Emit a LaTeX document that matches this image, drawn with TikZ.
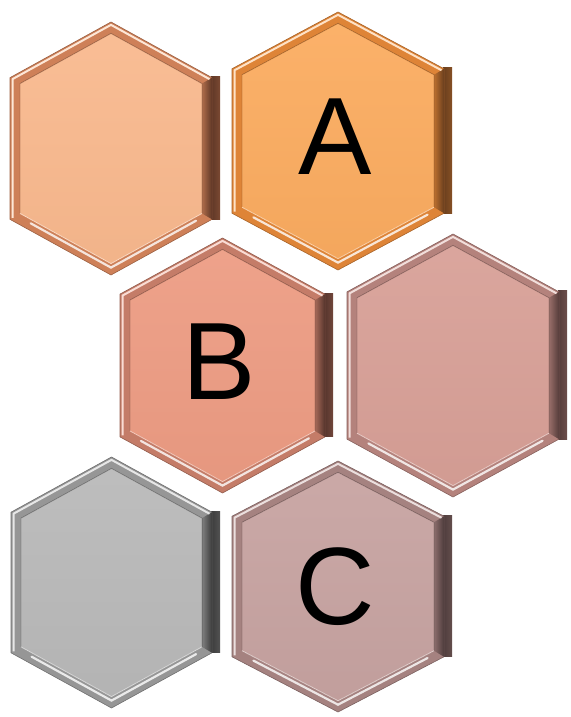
\documentclass[tikz,border=0pt]{standalone}
\usepackage{fontspec}
\setmainfont{Liberation Sans}
\usetikzlibrary{calc}
\definecolor{mA}{RGB}{249,185,142}\definecolor{bA}{RGB}{206,128,88}\definecolor{dA}{RGB}{95,55,38}
\definecolor{mB}{RGB}{251,172,96}\definecolor{bB}{RGB}{222,132,55}\definecolor{dB}{RGB}{105,62,30}
\definecolor{mC}{RGB}{237,156,131}\definecolor{bC}{RGB}{196,124,104}\definecolor{dC}{RGB}{85,52,44}
\definecolor{mD}{RGB}{216,160,151}\definecolor{bD}{RGB}{180,130,124}\definecolor{dD}{RGB}{85,60,58}
\definecolor{mE}{RGB}{185,185,185}\definecolor{bE}{RGB}{150,150,150}\definecolor{dE}{RGB}{60,60,60}
\definecolor{mF}{RGB}{199,163,161}\definecolor{bF}{RGB}{165,130,128}\definecolor{dF}{RGB}{78,60,60}
\tikzset{lbl/.style={inner sep=0pt,font=\fontsize{110}{110}\selectfont,text=black}}
\newcommand\hexpts[2]{%
  \pgfmathsetmacro\hxDy{#2*\hxLg/\hxW}%
  \pgfmathsetmacro\hxSy{\hxT*(\hxW-#2)/\hxW}%
  \coordinate (#1t) at ({\hxC},{\hxTop+\hxDy});
  \coordinate (#1ur) at ({\hxC+\hxW-#2},{\hxTop+\hxDy+\hxSy});
  \coordinate (#1lr) at ({\hxC+\hxW-#2},{\hxBot-\hxDy-\hxSy});
  \coordinate (#1b) at ({\hxC},{\hxBot-\hxDy});
  \coordinate (#1ll) at ({\hxC-\hxW+#2},{\hxBot-\hxDy-\hxSy});
  \coordinate (#1ul) at ({\hxC-\hxW+#2},{\hxTop+\hxDy+\hxSy});
}
\newcommand\hexbev[8]{% #1 L #2 R #3 T #4 B #5 main #6 band #7 dark #8 name
  \pgfmathsetmacro\hxTop{#3}%
  \pgfmathsetmacro\hxBot{#4}%
  \pgfmathsetmacro\hxXr{#2-8}%
  \pgfmathsetmacro\hxC{(#1+\hxXr)/2}%
  \pgfmathsetmacro\hxW{(\hxXr-#1)/2}%
  \pgfmathsetmacro\hxT{0.22*(#4-#3)}%
  \pgfmathsetmacro\hxLg{sqrt(\hxW*\hxW+\hxT*\hxT)}%
  \hexpts{o}{0}\hexpts{h}{2.5}\hexpts{m}{6.5}\hexpts{i}{10}%
  \coordinate (#8) at ({\hxC},{(\hxTop+\hxBot)/2});
  % right extruded strip
  \fill[left color=#7, right color=#7!75!#6] ({\hxXr-1},{\hxTop+\hxT-1}) rectangle ({#2},{\hxBot-\hxT});
  % outer band
  \fill[#6] (ot)--(our)--(olr)--(ob)--(oll)--(oul)--cycle;
  \draw[#6!75!black,line width=0.6] (our)--(ot)--(oul)--(oll)--(ob)--(olr);
  % right inner bevel shading into the strip
  \shade[left color=#6!85!black, right color=#7] (iur)--(our)--(olr)--(ilr)--cycle;
  % upper highlight
  \draw[#5!35!white,line width=2,line join=round] (hll)--(hul)--(ht)--(hur);
  % lower highlight
  \draw[white,opacity=0.8,line width=2.2,line cap=round] ($(mll)!0.15!(mb)$)--(mb)--($(mb)!0.9!(mlr)$);
  % inner face
  \fill[top color=#5!94!white,bottom color=#5!97!black] (it)--(iur)--(ilr)--(ib)--(ill)--(iul)--cycle;
  \draw[#6!75!black,opacity=0.55,line width=0.9] (ill)--(iul)--(it)--(iur)--(ilr);
  \draw[#5!55!white,line width=0.8] (ill)--(ib)--(ilr);
}
\begin{document}
\begin{tikzpicture}[x=1pt,y=-1pt]
\path[use as bounding box] (0,0) rectangle (570,717);
\hexbev{10}{220}{22}{275}{mA}{bA}{dA}{h1}
\hexbev{232}{452}{12}{270}{mB}{bB}{dB}{hA}
\hexbev{120}{333}{238}{493}{mC}{bC}{dC}{hB}
\hexbev{347}{567}{234}{497}{mD}{bD}{dD}{h4}
\hexbev{11}{220}{457}{708}{mE}{bE}{dE}{h5}
\hexbev{232}{452}{461}{712}{mF}{bF}{dF}{hC}
\node[lbl] (labA) at (335,137) {A};
\node[lbl] (labB) at (219,362) {B};
\node[lbl] (labC) at (335,587) {C};
\end{tikzpicture}
\end{document}
